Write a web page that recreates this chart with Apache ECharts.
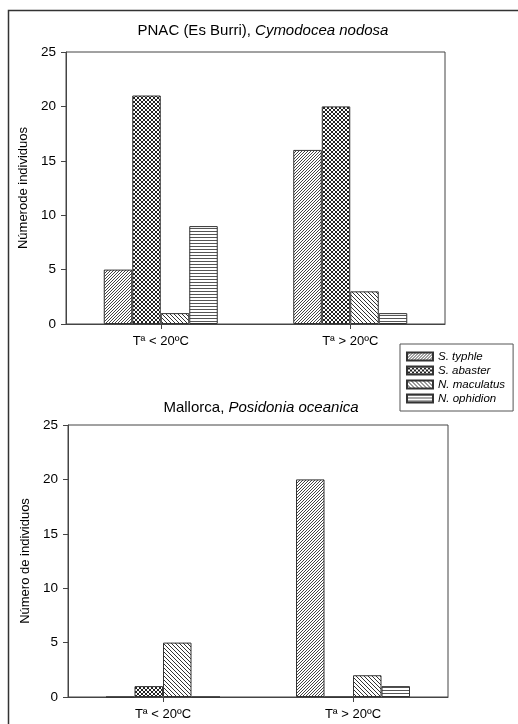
<!DOCTYPE html>
<html>
<head>
<meta charset="utf-8">
<script src="https://cdn.jsdelivr.net/npm/echarts@6/dist/echarts.min.js"></script>
<style>
  body { margin: 0; background: #fff; }
  #chart { width: 518px; height: 724px; }
</style>
</head>
<body>
<div id="chart"></div>
<script>
// categories and species
const categories = ['Tª < 20ºC', 'Tª > 20ºC'];
const speciesNames = ['S. typhle', 'S. abaster', 'N. maculatus', 'N. ophidion'];

// PNAC (Es Burri), Cymodocea nodosa
const pnacTyphle = [5, 16];
const pnacAbaster = [21, 20];
const pnacMaculatus = [1, 3];
const pnacOphidion = [9, 1];

// Mallorca, Posidonia oceanica
const mallorcaTyphle = [0, 20];
const mallorcaAbaster = [1, 0];
const mallorcaMaculatus = [5, 2];
const mallorcaOphidion = [0, 1];

const yMax = 25;
const yStep = 5;

const font = '"Liberation Sans", Arial, sans-serif';

// small tiles used as hatch fills
function makePattern(w, h, pixels, ink) {
  const c = document.createElement('canvas');
  c.width = w;
  c.height = h;
  const ctx = c.getContext('2d');
  ctx.fillStyle = '#fff';
  ctx.fillRect(0, 0, w, h);
  ctx.fillStyle = ink;
  pixels.forEach(p => ctx.fillRect(p[0], p[1], 1, 1));
  return { image: c, repeat: 'repeat' };
}

const patterns = [
  makePattern(3, 3, [[2, 0], [1, 1], [0, 2]], '#444'),                                   // ////
  makePattern(4, 4, [[0, 0], [3, 0], [1, 1], [2, 1], [1, 2], [2, 2], [0, 3], [3, 3]], '#222'), // crosshatch
  makePattern(4, 4, [[0, 0], [1, 1], [2, 2], [3, 3]], '#333'),                           // \\\\
  makePattern(1, 3, [[0, 0]], '#555')                                                    // ====
];

const pnacData = [pnacTyphle, pnacAbaster, pnacMaculatus, pnacOphidion];
const mallorcaData = [mallorcaTyphle, mallorcaAbaster, mallorcaMaculatus, mallorcaOphidion];

function barSeries(values, idx, gridIdx) {
  return {
    name: speciesNames[idx],
    type: 'bar',
    xAxisIndex: gridIdx,
    yAxisIndex: gridIdx,
    data: values,
    barWidth: 28.5,
    barGap: '0%',
    itemStyle: { color: patterns[idx], borderColor: '#333', borderWidth: 1 },
    emphasis: { disabled: true }
  };
}

function xAxis(gridIdx) {
  return {
    type: 'category',
    gridIndex: gridIdx,
    data: categories,
    axisLine: { show: true, lineStyle: { color: '#444', width: 1 } },
    axisTick: { show: true, alignWithLabel: true, length: 5, lineStyle: { color: '#444' } },
    axisLabel: { color: '#000', fontSize: 13, fontFamily: font, margin: 11 },
    splitLine: { show: false }
  };
}

function yAxis(gridIdx, name, gap) {
  return {
    type: 'value',
    gridIndex: gridIdx,
    min: 0,
    max: yMax,
    interval: yStep,
    name: name,
    nameLocation: 'middle',
    nameRotate: 90,
    nameGap: gap,
    nameTextStyle: { color: '#000', fontSize: 13, fontFamily: font },
    axisLine: { show: true, lineStyle: { color: '#444', width: 1 } },
    axisTick: { show: true, length: 5, lineStyle: { color: '#444' } },
    axisLabel: { color: '#000', fontSize: 13.5, fontFamily: font, margin: 10 },
    splitLine: { show: false }
  };
}

const titleRich = {
  n: { fontSize: 15, fontFamily: font, color: '#000', fontWeight: 'normal' },
  i: { fontSize: 15, fontFamily: font, color: '#000', fontWeight: 'normal', fontStyle: 'italic' }
};

const series = [];
pnacData.forEach((v, i) => series.push(barSeries(v, i, 0)));
mallorcaData.forEach((v, i) => series.push(barSeries(v, i, 1)));

const option = {
  backgroundColor: '#fff',
  animation: false,
  title: [
    {
      text: '{n|PNAC (Es Burri), }{i|Cymodocea nodosa}',
      left: 258, top: 18, textAlign: 'center',
      textStyle: { fontWeight: 'normal', rich: titleRich }
    },
    {
      text: '{n|Mallorca, }{i|Posidonia oceanica}',
      left: 256, top: 395, textAlign: 'center',
      textStyle: { fontWeight: 'normal', rich: titleRich }
    }
  ],
  legend: {
    orient: 'vertical',
    left: 400,
    top: 344,
    data: speciesNames,
    icon: 'rect',
    itemWidth: 26,
    itemHeight: 8,
    itemGap: 1,
    padding: [6, 8, 6, 6],
    borderColor: '#555',
    borderWidth: 1,
    selectedMode: false,
    textStyle: { color: '#000', fontSize: 11.5, fontStyle: 'italic', fontFamily: font, lineHeight: 13 }
  },
  grid: [
    { left: 66, top: 52, width: 379, height: 272, show: true, borderColor: '#444', borderWidth: 1, outerBoundsMode: 'none' },
    { left: 68, top: 425, width: 380, height: 272, show: true, borderColor: '#444', borderWidth: 1, outerBoundsMode: 'none' }
  ],
  xAxis: [xAxis(0), xAxis(1)],
  yAxis: [yAxis(0, 'Númerode individuos', 36), yAxis(1, 'Número de individuos', 34)],
  series: series,
  graphic: [
    {
      type: 'rect',
      silent: true,
      z: -1,
      shape: { x: 8.5, y: 10.5, width: 700, height: 900 },
      style: { fill: 'none', stroke: '#333', lineWidth: 1.5 }
    }
  ]
};

const chart = echarts.init(document.getElementById('chart'));
chart.setOption(option);
</script>
</body>
</html>
